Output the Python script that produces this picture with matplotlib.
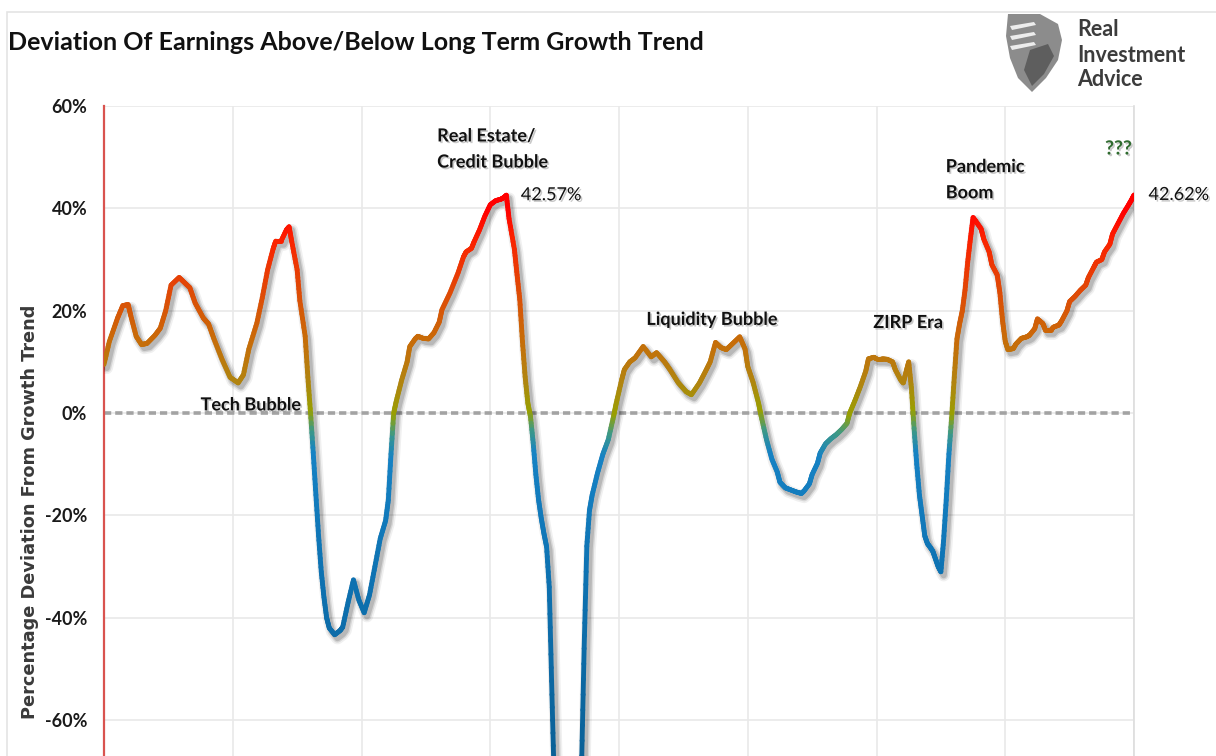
import numpy as np
import matplotlib
matplotlib.use("Agg")
import matplotlib.pyplot as plt
from matplotlib.collections import LineCollection
from matplotlib.colors import LinearSegmentedColormap, Normalize
import matplotlib.transforms as mtransforms
import matplotlib.patheffects as pe
from matplotlib.patches import Rectangle, Polygon

# ---------------------------------------------------------------------------
# Data: monthly deviation of earnings from long-term growth trend (%)
# months are counted from January 1992
# ---------------------------------------------------------------------------
months = [
    0, 2, 5, 7, 9, 10, 12, 14, 16, 19, 21, 23, 25, 28, 30, 32, 34, 37, 39, 41,
    44, 47, 50, 52, 54, 57, 59, 61, 63, 64, 66, 68, 69, 70, 72, 73, 75, 76, 77,
    78, 79, 80, 81, 82, 83, 84, 86, 88, 89, 91, 93, 95, 97, 99, 101, 103, 105,
    106, 107, 108, 109, 111, 113, 114, 116, 117, 119, 121, 123, 125, 126, 129,
    132, 134, 135, 137, 138, 140, 142, 144, 146, 148, 149, 150, 151, 153, 154,
    155, 156, 157, 158, 159, 160, 161, 162, 163, 164, 165, 166, 167, 168, 169,
    171, 173, 175, 177, 178, 179, 180, 181, 182, 184, 186, 188, 190, 191, 193,
    194, 196, 198, 201, 204, 206, 209, 211, 214, 217, 219, 222, 224, 226, 228,
    230, 232, 234, 237, 239, 240, 242, 244, 245, 247, 249, 251, 252, 254, 256,
    258, 260, 261, 263, 264, 266, 267, 269, 271, 273, 275, 277, 278, 280, 282,
    284, 285, 287, 288, 290, 292, 294, 295, 297, 298, 299, 300, 301, 302, 303,
    304, 305, 306, 307, 308, 309, 310, 311, 312, 313, 314, 315, 316, 317, 318,
    319, 320, 321, 322, 323, 324, 325, 327, 328, 330, 331, 333, 334, 335, 336,
    337, 339, 340, 342, 344, 345, 347, 348, 350, 351, 353, 354, 356, 357, 359,
    360, 362, 364, 366, 367, 369, 370, 372, 373, 375, 376, 378, 380, 382, 383,
    384,
]
deviation = [
    9.5, 14, 18.5, 21, 21.2, 19, 15, 13.4, 13.6, 15.2, 16.6, 20, 25, 26.5, 25.5,
    24.5, 21.5, 18.6, 17.4, 14.5, 10.5, 7, 5.9, 7.5, 12.5, 17.6, 22.5, 28, 32,
    33.6, 33.6, 35.8, 36.4, 33.5, 28, 22, 15, 7, 0,
    -7.7, -16, -24, -31, -36, -40, -42, -43.3, -42.5, -41.8, -37, -32.6, -36.5,
    -39, -35.5, -30, -24.5, -21,
    -17, -8, 0, 2.4, 6.5, 10, 13, 14.5, 15, 14.6, 14.5, 15.7, 17.8, 20.2, 23.5,
    27.4, 30.5, 31.5, 32.2, 33.5, 35.8, 38.5, 40.7, 41.5, 41.8, 42.1, 42.57, 38,
    32, 27,
    22.2, 14, 7.1, 2, -0.7, -5.8, -12, -16.9, -20.5, -23.5, -26.1, -34, -55, -75,
    -86,
    -92, -93, -90, -84, -70, -46, -26, -19, -16, -11.7, -8, -5.2, -0.6, 2, 6.5,
    8.5, 10, 10.8, 13, 11, 11.8, 10, 8.5, 6, 4.2, 3.6, 5.9, 7.9, 10, 13.8,
    12.8, 12.4, 13.4, 14.9, 12.5, 9.1, 6, 2, -0.6, -5.2, -9, -11.5, -13.5, -14.6,
    -15,
    -15.4, -15.7, -15.2, -13.8, -12, -9.8, -7.8, -6, -5, -4.2, -3.2, -2, 0, 2.5,
    5.2,
    8.2, 10.6, 10.9, 10.6, 10.6, 10.5, 10, 8.5, 6.5, 5.9, 8, 10, 5, -3, -10,
    -16, -20, -24, -25.5, -26.2, -27, -28.5, -30, -31, -25, -17, -8, -1, 7, 14.5,
    17.5, 20, 24, 29.5, 34, 38.2, 37.5, 36, 34, 31.5, 29, 27, 23.5, 18, 14,
    12.4, 12.6, 13.5, 14.6, 14.9, 15.2, 16.5, 18.4, 17.5, 16.2, 16.2, 16.8, 17.2,
    18, 20,
    21.8, 22.8, 24, 25, 26.5, 28.5, 29.5, 30, 31.5, 33, 35, 37, 39, 40.7, 41.6,
    42.62,
]

start_year = 1992
y_ticks = [-60, -40, -20, 0, 20, 40, 60]
y_tick_labels = [f"{v}%" for v in y_ticks]

annotations = [
    ("Tech Bubble", 1995.0, 1.6),
    ("Real Estate/\nCredit Bubble", 2002.35, 51.6),
    ("Liquidity Bubble", 2008.85, 18.3),
    ("ZIRP Era", 2015.9, 17.7),
    ("Pandemic\nBoom", 2018.15, 45.6),
]
value_labels = [(2004.95, 42.57), (2024.45, 42.62)]

FONT = "Lato"

years = start_year + np.asarray(months) / 12.0
dev = np.asarray(deviation, dtype=float)

fig = plt.figure(figsize=(12.16, 7.56), dpi=100)
fig.patch.set_facecolor("white")
flip = mtransforms.Affine2D().scale(1, -1).translate(0, 756)  # top-left pixel frame

# thin outer frame of the chart panel
fig.add_artist(Rectangle((7 / 1216, -0.02), 1.05, 1 - 12 / 756 + 0.02,
                         transform=fig.transFigure, fill=False,
                         edgecolor="#e4e4e4", linewidth=1.2))

ax = fig.add_axes([104 / 1216, 0.0, (1134 - 104) / 1216, 1 - 106 / 756])
ax.set_xlim(1992, 2024)
ax.set_ylim(-67, 60)

# grid
ax.set_xticks(np.arange(1992, 2024.1, 4))
ax.set_yticks(y_ticks)
ax.set_yticklabels(y_tick_labels)
ax.grid(True, color="#e9e9e9", linewidth=1.2)
ax.set_axisbelow(True)
ax.tick_params(axis="x", length=0, labelbottom=False)
ax.tick_params(axis="y", length=0, pad=12)
for lab in ax.get_yticklabels():
    lab.set_fontfamily(FONT)
    lab.set_fontsize(13)
    lab.set_fontweight("bold")
    lab.set_color("#1a1a1a")
for side in ("top", "bottom"):
    ax.spines[side].set_visible(False)
ax.spines["right"].set_color("#dddddd")
ax.spines["right"].set_linewidth(1.2)
ax.spines["left"].set_color("#d9534f")
ax.spines["left"].set_linewidth(1.6)

# zero reference
ax.axhline(0, color="#a3a3a3", linewidth=2.6, linestyle=(0, (2.0, 1.1)),
           zorder=2)

# soft drop shadow under the series
off = mtransforms.ScaledTranslation(2 / 72, -2.5 / 72, fig.dpi_scale_trans)
for lw, a in ((9, 0.06), (6.5, 0.10), (4.5, 0.14)):
    ax.plot(years, dev, color="black", alpha=a, linewidth=lw,
            solid_capstyle="round", solid_joinstyle="round",
            transform=ax.transData + off, zorder=3)

# value-coloured series line
stops = [(-70, "#0a5f94"), (-30, "#0e73b3"), (-8, "#1682c4"),
         (-3.5, "#3f9a84"), (0, "#98a000"), (6, "#b08510"), (15, "#c96a08"),
         (25, "#e24606"), (34, "#fb2200"), (40, "#ff0000"), (45, "#ff0000")]
vmin, vmax = -70, 45
cmap = LinearSegmentedColormap.from_list(
    "dev", [((v - vmin) / (vmax - vmin), c) for v, c in stops])

segs, vals = [], []
for i in range(len(years) - 1):
    xs = np.linspace(years[i], years[i + 1], 9)
    ys = np.linspace(dev[i], dev[i + 1], 9)
    for j in range(8):
        segs.append([(xs[j], ys[j]), (xs[j + 1], ys[j + 1])])
        vals.append(0.5 * (ys[j] + ys[j + 1]))
lc = LineCollection(segs, cmap=cmap, norm=Normalize(vmin, vmax),
                    linewidths=3.5, capstyle="round", joinstyle="round",
                    zorder=4)
lc.set_array(np.asarray(vals))
ax.add_collection(lc)

# annotations
shadow = [pe.withSimplePatchShadow(offset=(1.2, -1.2), shadow_rgbFace="#888888",
                                   alpha=0.45)]
for text, x, y in annotations:
    ax.text(x, y, text, fontfamily=FONT, fontsize=13, fontweight="bold",
            color="#111111", ha="left", va="center", linespacing=1.65,
            path_effects=shadow, zorder=6)
for x, y in value_labels:
    ax.text(x, y, f"{y:.2f}%", fontfamily=FONT, fontsize=13,
            color="#111111", ha="left", va="center", clip_on=False,
            path_effects=shadow, zorder=6)
ax.text(2023.1, 51.6, "???", fontfamily=FONT, fontsize=14, fontweight="bold",
        color="#2f6b2f", ha="left", va="center", path_effects=shadow, zorder=6)

# y-axis title
fig.text(30 / 1216, 1 - 512 / 756, "Percentage Deviation From Growth Trend",
         rotation=90, ha="center", va="center", fontfamily="DejaVu Sans",
         fontweight="bold", fontsize=12.8, color="#3a3a3a")

# chart title
fig.text(8 / 1216, 1 - 42 / 756,
         "Deviation Of Earnings Above/Below Long Term Growth Trend",
         ha="left", va="center", fontfamily=FONT, fontweight="bold",
         fontsize=18, color="#111111")

# brand mark: shield + wordmark
def add_poly(points, **kw):
    p = Polygon(points, closed=True, edgecolor="none", **kw)
    p.set_transform(flip)
    fig.add_artist(p)


add_poly([(1008, 14), (1040, 14), (1058, 24), (1062, 40), (1058, 60),
          (1046, 78), (1032, 92), (1018, 78), (1010, 58), (1006, 36)],
         facecolor="#8c8c8c")
add_poly([(1030, 50), (1048, 44), (1054, 56), (1044, 74), (1032, 86),
          (1024, 70)], facecolor="#5e5e5e")
for y0 in (26, 36, 46):
    add_poly([(1010, y0), (1034, y0 - 4), (1036, y0 - 1), (1012, y0 + 4)],
             facecolor="white", alpha=0.85)

for line, yp in (("Real", 30), ("Investment", 55), ("Advice", 79)):
    fig.text(1077 / 1216, 1 - yp / 756, line, ha="left", va="center",
             fontfamily=FONT, fontweight="bold", fontsize=15.5,
             color="#3c3c3c")

fig.savefig("out.png", dpi=100, facecolor="white")
